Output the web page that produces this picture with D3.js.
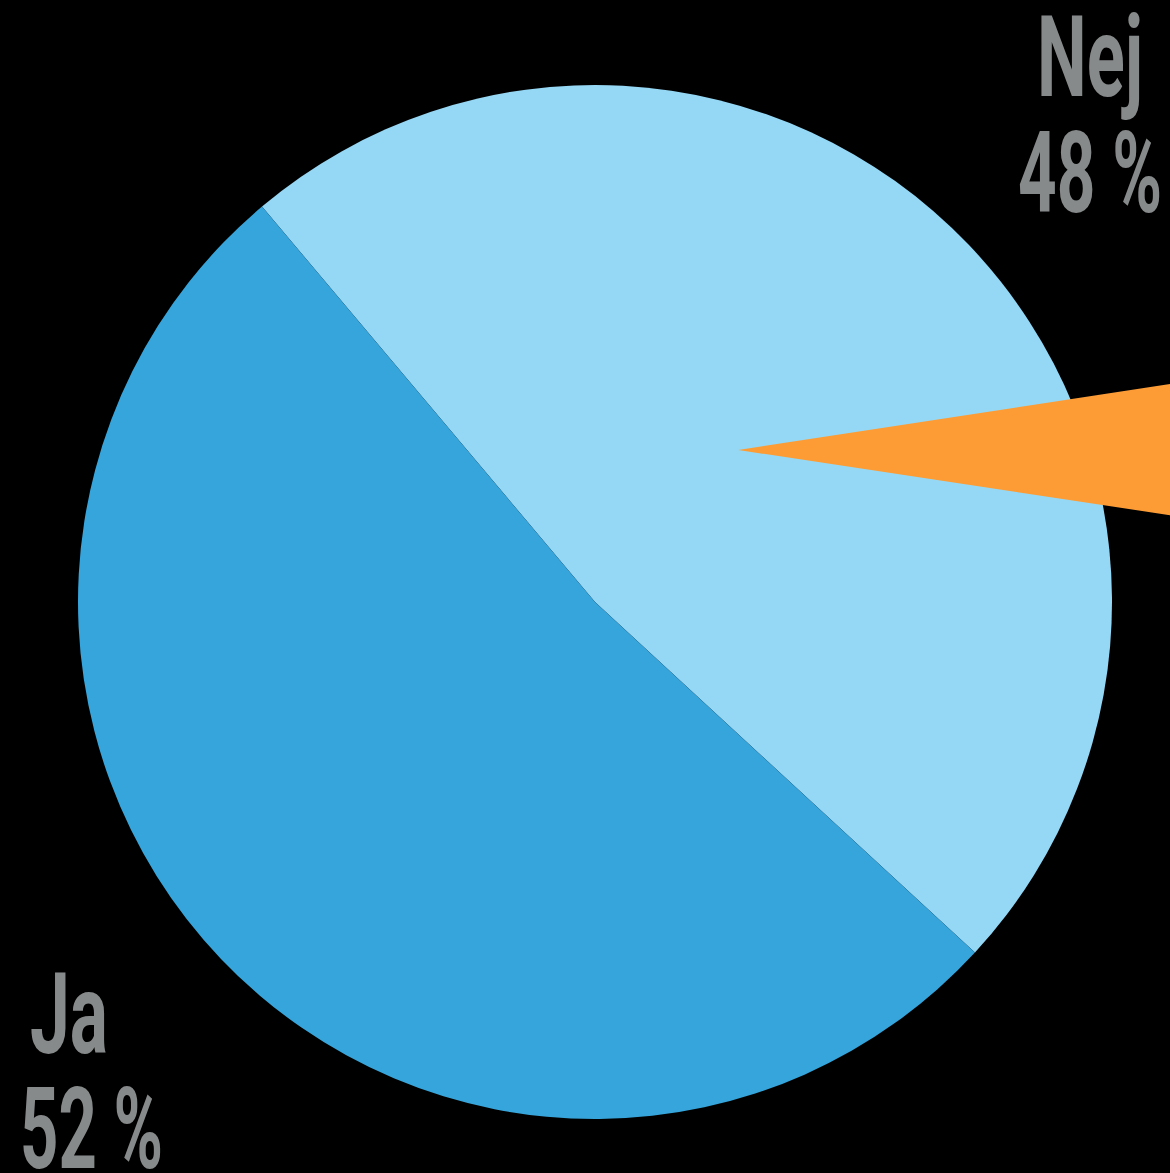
<!DOCTYPE html>
<html>
<head>
<meta charset="utf-8">
<script src="https://cdn.jsdelivr.net/npm/d3@7"></script>
<style>
  html, body { margin: 0; padding: 0; background: #000; }
  svg { display: block; }
</style>
</head>
<body>
<script>
var w = 1170;
var h = 1173;

// data
var categories = ["Nej", "Ja"];
var values = [48, 52];
var valueLabels = ["48 %", "52 %"];
var colors = ["#95d8f5", "#36a5db"];

// pie geometry
var cx = 595;
var cy = 602;
var radius = 517;
var startDeg = -40.1;

var svg = d3.select("body")
  .append("svg")
  .attr("width", w)
  .attr("height", h);

svg.append("rect")
  .attr("width", w)
  .attr("height", h)
  .attr("fill", "#000");

var pie = d3.pie()
  .sort(null)
  .value(function(d) { return d; })
  .startAngle(startDeg * Math.PI / 180)
  .endAngle((startDeg + 360) * Math.PI / 180);

var arc = d3.arc()
  .innerRadius(0)
  .outerRadius(radius);

var g = svg.append("g")
  .attr("transform", "translate(" + cx + "," + cy + ")");

g.selectAll("path.slice")
  .data(pie(values))
  .enter()
  .append("path")
  .attr("class", "slice")
  .attr("d", arc)
  .attr("fill", function(d, i) { return colors[i]; });

// orange pointer (spinner marker) on the right
var tip = [cx + radius * 0.277, cy - radius * 0.294];
var pointer = d3.line()([
  tip,
  [w + 20, tip[1] - (w + 20 - tip[0]) * 0.153],
  [w + 20, tip[1] + (w + 20 - tip[0]) * 0.151]
]) + "Z";

svg.append("path")
  .attr("d", pointer)
  .attr("fill", "#fd9c35");

// labels
var labelFont = "Roboto, 'DejaVu Sans', sans-serif";
var labelColor = "#878a8b";
var labelSize = 113;

var labelSpecs = [
  { text: categories[0], x: 1143, y: 96, anchor: "end", width: 106 },
  { text: valueLabels[0], x: 1162, y: 212, anchor: "end", width: 144 },
  { text: categories[1], x: 30, y: 1053, anchor: "start", width: 78 },
  { text: valueLabels[1], x: 20, y: 1168, anchor: "start", width: 143 }
];

svg.selectAll("text.label")
  .data(labelSpecs)
  .enter()
  .append("text")
  .attr("class", "label")
  .attr("x", function(d) { return d.anchor == "end" ? d.x - d.width : d.x; })
  .attr("y", function(d) { return d.y; })
  .attr("textLength", function(d) { return d.width; })
  .attr("lengthAdjust", "spacingAndGlyphs")
  .style("font-family", labelFont)
  .style("font-weight", "bold")
  .style("font-size", labelSize + "px")
  .attr("fill", labelColor)
  .text(function(d) { return d.text; });
</script>
</body>
</html>
